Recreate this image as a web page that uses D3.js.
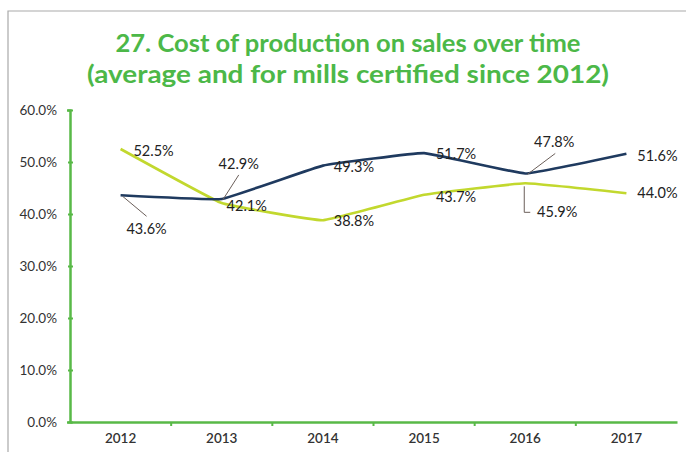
<!DOCTYPE html>
<html>
<head>
<meta charset="utf-8">
<script src="https://cdn.jsdelivr.net/npm/d3@7"></script>
<style>
  html, body { margin: 0; padding: 0; background: #fff; }
  svg { display: block; }
  text { font-family: "Lato", "Liberation Sans", sans-serif; }
</style>
</head>
<body>
<svg id="chart" width="686" height="452"></svg>
<script>
// Cost of production on sales, two series by year
const years = ["2012", "2013", "2014", "2015", "2016", "2017"];
const averageValues = [43.6, 42.9, 49.3, 51.7, 47.8, 51.6];
const certifiedValues = [52.5, 42.1, 38.8, 43.7, 45.9, 44.0];
const yTicks = [0, 10, 20, 30, 40, 50, 60];
const titleLines = [
  "27. Cost of production on sales over time",
  "(average and for mills certified since 2012)"
];
const titleWidths = [465, 522];

// label offsets relative to each point (dx, dy) and optional leader
const avgLabelPos = [
  { dx: 26, dy: 34, leader: [[2, 1], [26, 21]] },
  { dx: 17, dy: -35, leader: [[1, 1], [17, -24]] },
  { dx: 31, dy: 1 },
  { dx: 32, dy: 1 },
  { dx: 29, dy: -32, leader: [[2, 1], [30, -20]] },
  { dx: 31, dy: 2 }
];
const certLabelPos = [
  { dx: 33, dy: 2 },
  { dx: 25, dy: 3 },
  { dx: 31, dy: 1 },
  { dx: 32, dy: 2 },
  { dx: 32, dy: 29, leader: [[-1, 3], [-1, 29], [5, 29]] },
  { dx: 31, dy: 0 }
];

const navy = "#1f3a5f";
const lime = "#c2d82e";
const green = "#58b947";

const svg = d3.select("#chart");

// scanned frame edge
svg.append("path")
  .attr("d", "M8,460 L8,11 L700,11")
  .attr("fill", "none")
  .attr("stroke", "#a9a9a9")
  .attr("stroke-width", 1.2);

// title
svg.append("g").selectAll("text")
  .data(titleLines)
  .enter()
  .append("text")
  .attr("x", 348)
  .attr("y", (d, i) => 52 + i * 31)
  .attr("text-anchor", "middle")
  .attr("font-size", 25)
  .attr("font-weight", 700)
  .attr("fill", "#4cb848")
  .attr("textLength", (d, i) => titleWidths[i])
  .attr("lengthAdjust", "spacingAndGlyphs")
  .text(d => d);

const x = d3.scaleBand().domain(years).range([70, 677]);
const y = d3.scaleLinear().domain([0, 60]).range([422, 110]);
const cx = d => x(d) + x.bandwidth() / 2;

// y axis
const yAxis = svg.append("g")
  .attr("transform", "translate(70,0)")
  .call(d3.axisLeft(y).tickValues(yTicks).tickSize(3).tickFormat(d => d.toFixed(1) + "%"));
yAxis.select(".domain").attr("stroke", green).attr("stroke-width", 2.5);
yAxis.selectAll(".tick line").attr("stroke", green).attr("stroke-width", 2).attr("x2", 3).attr("x1", -2);
yAxis.selectAll(".tick text")
  .attr("x", -13)
  .attr("font-size", 13.5)
  .attr("fill", "#333")
  .style("font-family", "Lato, sans-serif");

// x axis
const xAxis = svg.append("g")
  .attr("transform", "translate(0,422)")
  .call(d3.axisBottom(x).tickSize(0).tickPadding(11));
xAxis.select(".domain").attr("stroke", green).attr("stroke-width", 2.5);
xAxis.selectAll(".tick text")
  .attr("font-size", 13.5)
  .attr("font-weight", 600)
  .attr("fill", "#333")
  .style("font-family", "Lato, sans-serif");
xAxis.selectAll(".sep")
  .data(years.slice(1))
  .enter()
  .append("line")
  .attr("class", "sep")
  .attr("x1", d => x(d)).attr("x2", d => x(d))
  .attr("y1", 0).attr("y2", 4)
  .attr("stroke", green)
  .attr("stroke-width", 2);

// lines
const line = d3.line()
  .x((d, i) => cx(years[i]))
  .y(d => y(d))
  .curve(d3.curveCardinal.tension(0.75));

svg.append("path")
  .datum(certifiedValues)
  .attr("fill", "none")
  .attr("stroke", lime)
  .attr("stroke-width", 2.6)
  .attr("d", line);

svg.append("path")
  .datum(averageValues)
  .attr("fill", "none")
  .attr("stroke", navy)
  .attr("stroke-width", 2.6)
  .attr("d", line);

// data labels
function labels(values, pos) {
  const g = svg.append("g");
  values.forEach((v, i) => {
    const px = cx(years[i]), py = y(v), p = pos[i];
    if (p.leader) {
      g.append("polyline")
        .attr("points", p.leader.map(q => (px + q[0]) + "," + (py + q[1])).join(" "))
        .attr("fill", "none")
        .attr("stroke", "#6b5f5a")
        .attr("stroke-width", 1);
    }
    g.append("text")
      .attr("x", px + p.dx)
      .attr("y", py + p.dy)
      .attr("dy", "0.35em")
      .attr("text-anchor", "middle")
      .attr("font-size", 14.5)
      .attr("fill", "#222")
      .text(v.toFixed(1) + "%");
  });
}
labels(averageValues, avgLabelPos);
labels(certifiedValues, certLabelPos);
</script>
</body>
</html>
